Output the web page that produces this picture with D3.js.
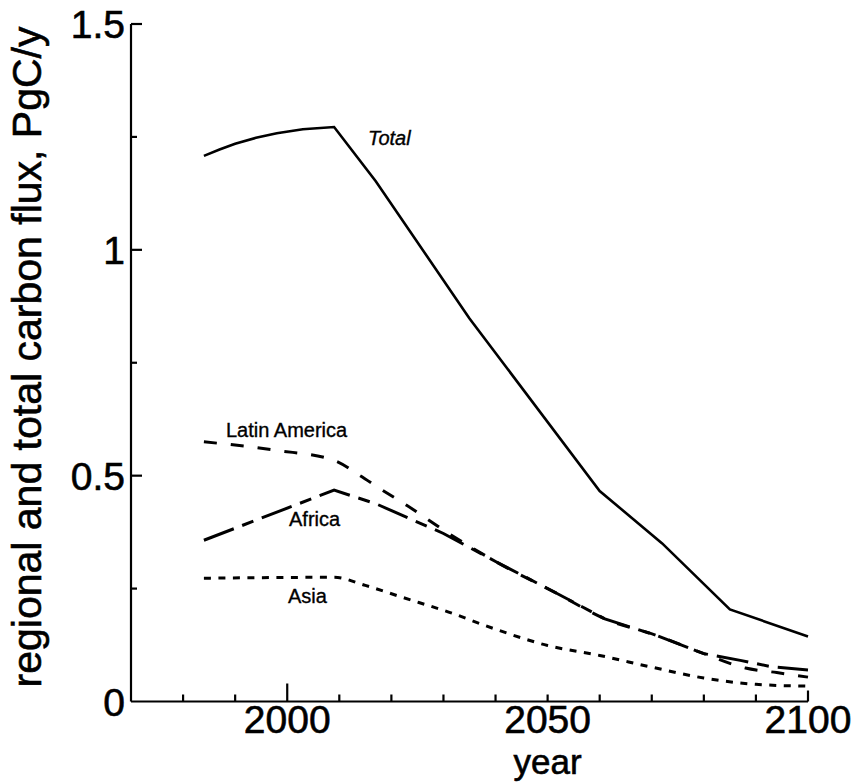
<!DOCTYPE html>
<html>
<head>
<meta charset="utf-8">
<script src="https://cdn.jsdelivr.net/npm/d3@7"></script>
<style>
  html, body { margin: 0; padding: 0; background: #fff; }
  svg text { font-family: "Liberation Sans", Arial, Helvetica, sans-serif; fill: #000; }
</style>
</head>
<body>
<svg id="chart" width="858" height="782"></svg>
<script>
// ---- data ----
const totalYears  = [1984, 1987, 1990, 1994, 1998, 2003, 2009, 2017, 2035, 2060, 2072, 2085, 2100];
const totalValues = [1.208, 1.222, 1.235, 1.248, 1.258, 1.267, 1.272, 1.152, 0.848, 0.466, 0.350, 0.204, 0.144];

const latinYears  = [1984, 1998, 2009, 2014, 2018, 2023, 2031, 2040, 2052, 2061, 2071, 2080, 2088, 2094, 2100];
const latinValues = [0.575, 0.556, 0.534, 0.500, 0.470, 0.434, 0.372, 0.310, 0.238, 0.183, 0.146, 0.106, 0.074, 0.064, 0.054];

const africaYears  = [1984, 2009, 2017, 2030, 2040, 2052, 2061, 2071, 2080, 2087, 2093, 2100];
const africaValues = [0.357, 0.468, 0.438, 0.372, 0.310, 0.238, 0.183, 0.146, 0.106, 0.091, 0.077, 0.070];

const asiaYears  = [1984, 2009, 2015, 2022, 2031, 2040, 2050, 2060, 2070, 2080, 2090, 2100];
const asiaValues = [0.273, 0.275, 0.257, 0.231, 0.198, 0.160, 0.124, 0.102, 0.076, 0.052, 0.038, 0.034];

const xTickValues = [1970, 1980, 1990, 2000, 2010, 2020, 2030, 2040, 2050, 2060, 2070, 2080, 2090, 2100];
const xTickLabels = ["2000", "2050", "2100"];
const yTickValues = [0, 0.25, 0.5, 0.75, 1, 1.25, 1.5];
const yTickLabels = ["0", "0.5", "1", "1.5"];

const seriesNames = ["Total", "Latin America", "Africa", "Asia"];

// ---- layout ----
const svg = d3.select("#chart");
const x = d3.scaleLinear().domain([1970, 2100]).range([131, 808]);
const y = d3.scaleLinear().domain([0, 1.5]).range([701.5, 24]);

// axes lines
const axes = svg.append("g").attr("stroke", "#000").attr("stroke-width", 2.2).attr("fill", "none");
axes.append("line").attr("x1", x(1970)).attr("x2", x(1970)).attr("y1", y(0)).attr("y2", y(1.5));
axes.append("line").attr("x1", x(1970)).attr("x2", x(2100)).attr("y1", y(0)).attr("y2", y(0));

// x ticks (inward, upward)
axes.selectAll("line.xt").data(xTickValues.filter(v => v > 1970)).enter().append("line")
  .attr("class", "xt")
  .attr("x1", d => x(d)).attr("x2", d => x(d))
  .attr("y1", y(0))
  .attr("y2", d => y(0) - (d === 2000 ? 18 : (d === 2100 ? 11 : 7)));

// y ticks (inward, rightward)
axes.selectAll("line.yt").data(yTickValues.filter(v => v > 0)).enter().append("line")
  .attr("class", "yt")
  .attr("y1", d => y(d)).attr("y2", d => y(d))
  .attr("x1", x(1970))
  .attr("x2", d => x(1970) + ((d * 2) % 1 === 0 ? 11 : 6));

// tick labels
const bigText = g => g.attr("font-size", 39).attr("stroke", "#000").attr("stroke-width", 0.6);

svg.selectAll("text.xl").data(xTickLabels).enter().append("text")
  .attr("class", "xl")
  .attr("x", d => x(+d)).attr("y", 733)
  .attr("text-anchor", "middle")
  .call(bigText)
  .text(d => d);

svg.selectAll("text.yl").data(yTickLabels).enter().append("text")
  .attr("class", "yl")
  .attr("x", x(1970) - 6).attr("y", d => y(+d))
  .attr("dy", "0.36em")
  .attr("text-anchor", "end")
  .call(bigText)
  .text(d => d);

// axis titles
svg.append("text")
  .attr("x", x(2050)).attr("y", 774.3)
  .attr("text-anchor", "middle")
  .call(bigText)
  .attr("font-size", 35)
  .text("year");

svg.append("text")
  .attr("transform", "translate(41," + 357 + ") rotate(-90)")
  .attr("text-anchor", "middle")
  .call(bigText)
  .attr("font-size", 41)
  .text("regional and total carbon flux, PgC/y");

// ---- series ----
function pts(xs, vs) { return xs.map((d, i) => [d, vs[i]]); }
const lineLinear = d3.line().x(d => x(d[0])).y(d => y(d[1])).curve(d3.curveLinear);
const lineSmooth = d3.line().x(d => x(d[0])).y(d => y(d[1])).curve(d3.curveMonotoneX);

const series = [
  { name: seriesNames[0], data: pts(totalYears, totalValues), gen: lineLinear, dash: null, w: 2.6 },
  { name: seriesNames[1], data: pts(latinYears, latinValues), gen: lineSmooth, dash: "13,14", w: 3 },
  { name: seriesNames[2], data: pts(africaYears, africaValues), gen: lineLinear, dash: "32,9,12,9", w: 3 },
  { name: seriesNames[3], data: pts(asiaYears, asiaValues), gen: lineSmooth, dash: "7,7.5", w: 3 }
];

svg.selectAll("path.series").data(series).enter().append("path")
  .attr("class", "series")
  .attr("fill", "none")
  .attr("stroke", "#000")
  .attr("stroke-width", d => d.w)
  .attr("stroke-dasharray", d => d.dash)
  .attr("d", d => d.gen(d.data));

// series labels
const labelPos = [
  { name: seriesNames[0], x: 368, y: 145, italic: true },
  { name: seriesNames[1], x: 226, y: 437, italic: false },
  { name: seriesNames[2], x: 289, y: 526, italic: false },
  { name: seriesNames[3], x: 288, y: 603, italic: false }
];
svg.selectAll("text.sl").data(labelPos).enter().append("text")
  .attr("class", "sl")
  .attr("x", d => d.x).attr("y", d => d.y)
  .attr("font-size", 20)
  .attr("stroke", "#000").attr("stroke-width", 0.35)
  .attr("font-style", d => d.italic ? "italic" : "normal")
  .text(d => d.name);
</script>
</body>
</html>
